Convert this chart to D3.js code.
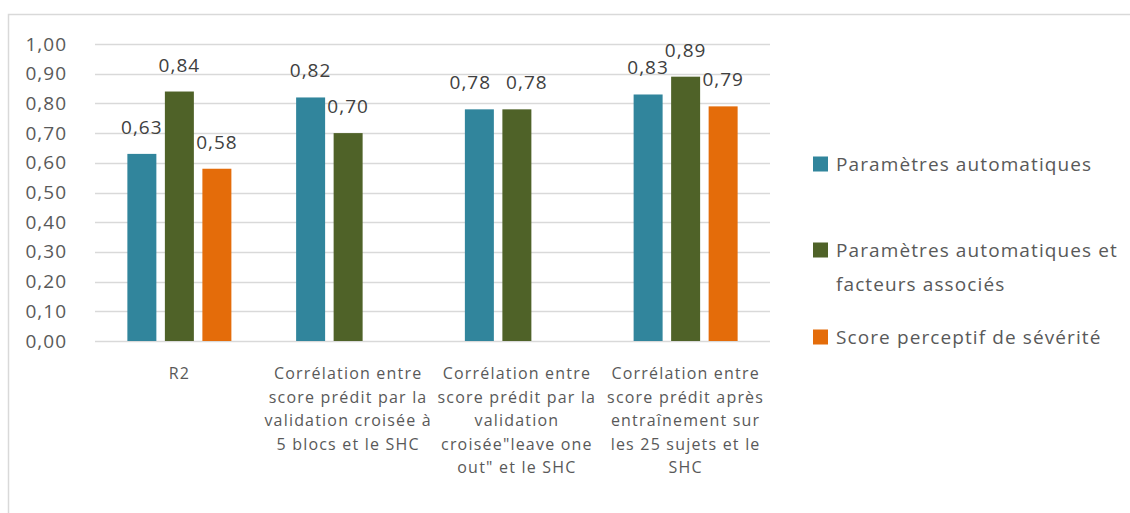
<!DOCTYPE html>
<html>
<head>
<meta charset="utf-8">
<script src="https://cdn.jsdelivr.net/npm/d3@7/dist/d3.min.js"></script>
<style>
  html, body { margin: 0; padding: 0; background: #fff; }
  svg { display: block; font-family: "Open Sans", sans-serif; }
</style>
</head>
<body>
<svg id="chart" width="1130" height="513"></svg>
<script>
// Category labels (line breaks as shown under each group)
const categories = [
  "R2",
  "Corrélation entre\nscore prédit par la\nvalidation croisée à\n5 blocs et le SHC",
  "Corrélation entre\nscore prédit par la\nvalidation\ncroisée\"leave one\nout\" et le SHC",
  "Corrélation entre\nscore prédit après\nentraînement sur\nles 25 sujets et le\nSHC"
];

const seriesNames = [
  "Paramètres automatiques",
  "Paramètres automatiques et\nfacteurs associés",
  "Score perceptif de sévérité"
];

const seriesColors = ["#31859C", "#4F6228", "#E46C0A"];

// One value per category; null where the series has no bar
const autoParams     = [0.63, 0.82, 0.78, 0.83];
const autoAndFactors = [0.84, 0.70, 0.78, 0.89];
const perceptual     = [0.58, null, null, 0.79];

const yTicks = [0, 0.1, 0.2, 0.3, 0.4, 0.5, 0.6, 0.7, 0.8, 0.9, 1.0];

const seriesValues = [autoParams, autoAndFactors, perceptual];

const svg = d3.select("#chart");
const textColor = "#595959";
const gridColor = "#d9d9d9";
const fmt = v => d3.format(".2f")(v).replace(".", ",");

// outer chart frame
svg.append("rect")
  .attr("x", 8.5).attr("y", 14.5)
  .attr("width", 1140).attr("height", 520)
  .attr("fill", "none").attr("stroke", gridColor).attr("stroke-width", 1.5);

const plot = { left: 95, right: 770, top: 44, bottom: 341 };

const y = d3.scaleLinear().domain([0, 1]).range([plot.bottom, plot.top]);
const x0 = d3.scaleBand().domain(categories).range([plot.left, plot.right]);
const x1 = d3.scaleBand().domain(d3.range(seriesNames.length))
  .range([0, x0.bandwidth()]).paddingInner(0.227).paddingOuter(0.863);

// gridlines
svg.append("g").selectAll("line").data(yTicks).join("line")
  .attr("x1", plot.left).attr("x2", plot.right)
  .attr("y1", d => Math.round(y(d)) + 0.5).attr("y2", d => Math.round(y(d)) + 0.5)
  .attr("stroke", gridColor).attr("stroke-width", 1.5);

// y axis labels
const yAxis = d3.axisLeft(y).tickValues(yTicks).tickFormat(fmt).tickSize(0).tickPadding(28);
const yg = svg.append("g").attr("transform", `translate(${plot.left},0)`).call(yAxis);
yg.select(".domain").remove();
yg.selectAll("text").attr("fill", textColor).style("font-size", "19px")
  .style("font-family", "'Open Sans', sans-serif").style("letter-spacing", "1px");

// bars
const rows = categories.map((c, i) => ({ cat: c, vals: seriesValues.map((s, k) => ({ k, v: s[i] })) }));
const groups = svg.append("g").selectAll("g").data(rows).join("g")
  .attr("transform", d => `translate(${x0(d.cat)},0)`);

groups.selectAll("rect").data(d => d.vals.filter(e => e.v != null)).join("rect")
  .attr("x", d => x1(d.k)).attr("width", x1.bandwidth())
  .attr("y", d => y(d.v)).attr("height", d => y(0) - y(d.v))
  .attr("fill", d => seriesColors[d.k]);

// value labels; pairs of equal-height neighbours are nudged apart
groups.selectAll("text.val").data(d => d.vals.filter(e => e.v != null).map((e, j, arr) => {
    let shift = 0;
    const prev = arr[j - 1], next = arr[j + 1];
    if (next && Math.abs(next.v - e.v) < 0.02) shift = -9;
    if (prev && Math.abs(prev.v - e.v) < 0.02) shift = 10;
    return { ...e, shift };
  })).join("text")
  .attr("class", "val")
  .attr("x", d => x1(d.k) + x1.bandwidth() / 2 + d.shift)
  .attr("y", d => y(d.v) - 20)
  .attr("text-anchor", "middle")
  .attr("fill", "#404040").style("font-size", "19px").style("letter-spacing", "1px")
  .text(d => fmt(d.v));

// category labels
const catG = svg.append("g").selectAll("text").data(categories).join("text")
  .attr("x", d => x0(d) + x0.bandwidth() / 2)
  .attr("y", 379)
  .attr("text-anchor", "middle")
  .attr("fill", textColor).style("font-size", "16px").style("letter-spacing", "1.2px");
catG.selectAll("tspan").data(d => d.split("\n")).join("tspan")
  .attr("x", function () { return d3.select(this.parentNode).attr("x"); })
  .attr("dy", (d, i) => i === 0 ? 0 : 23.5)
  .text(d => d);

// legend
const legendY = [164, 250, 337];
const lg = svg.append("g").selectAll("g").data(seriesNames).join("g")
  .attr("transform", (d, i) => `translate(813,${legendY[i]})`);
lg.append("rect").attr("x", 0).attr("y", -7.5).attr("width", 15).attr("height", 15)
  .attr("fill", (d, i) => seriesColors[i]);
const lt = lg.append("text").attr("x", 23).attr("y", 6.5)
  .attr("fill", textColor).style("font-size", "19px").style("letter-spacing", "1.1px");
lt.selectAll("tspan").data(d => d.split("\n")).join("tspan")
  .attr("x", 23).attr("dy", (d, i) => i === 0 ? 0 : 34)
  .text(d => d);
</script>
</body>
</html>
